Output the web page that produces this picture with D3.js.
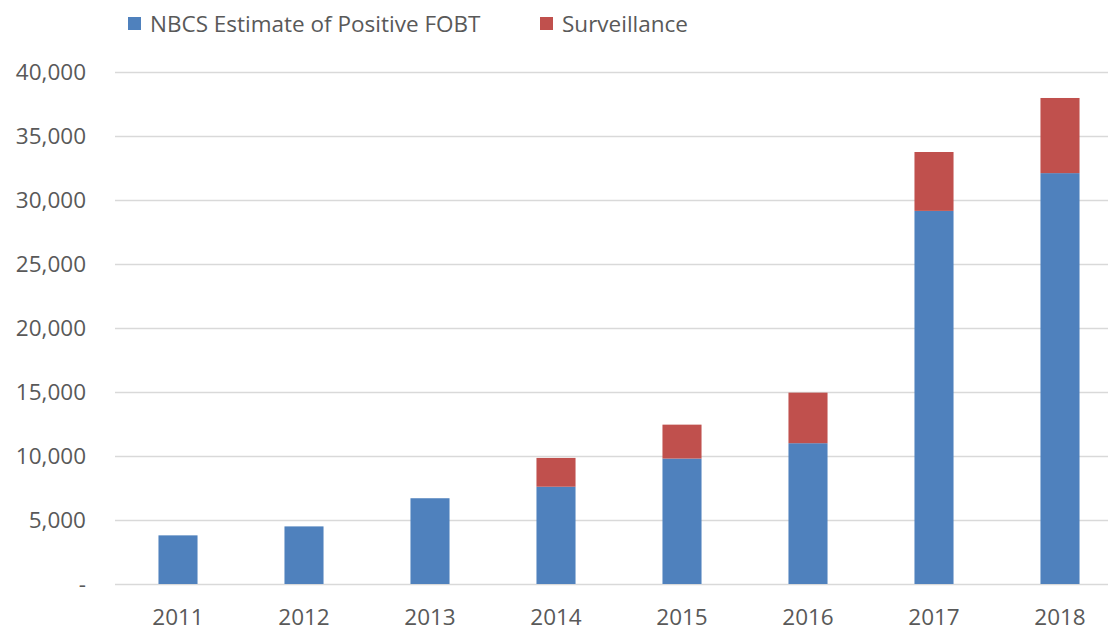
<!DOCTYPE html>
<html>
<head>
<meta charset="utf-8">
<script src="https://cdn.jsdelivr.net/npm/d3@7"></script>
<style>
  body { margin: 0; background: #fff; }
  text { font-family: "Open Sans", sans-serif; fill: #595959; }
</style>
</head>
<body>
<div id="chart"></div>
<script>
const years = ["2011", "2012", "2013", "2014", "2015", "2016", "2017", "2018"];
const nbcs = [3800, 4500, 6700, 7600, 9800, 11000, 29150, 32100];
const surveillance = [0, 0, 0, 2250, 2650, 3950, 4600, 5870];
const seriesNames = ["NBCS Estimate of Positive FOBT", "Surveillance"];
const colors = ["#4F81BD", "#C0504D"];
const yTicks = [0, 5000, 10000, 15000, 20000, 25000, 30000, 35000, 40000];

const width = 1111;
const height = 628;
const margin = { top: 72, right: 3, bottom: 44, left: 115 };
const fontSize = "22.5px";

const svg = d3.select("#chart")
    .append("svg")
    .attr("width", width)
    .attr("height", height);

const x = d3.scaleBand()
    .domain(years)
    .range([margin.left, margin.left + 126 * years.length])
    .paddingInner(0.69)
    .paddingOuter(0.345);

const y = d3.scaleLinear()
    .domain([0, 40000])
    .range([height - margin.bottom, margin.top]);

// gridlines
svg.append("g")
    .selectAll("line")
    .data(yTicks)
    .join("line")
    .attr("x1", margin.left)
    .attr("x2", width - margin.right)
    .attr("y1", d => Math.round(y(d)) + 0.5)
    .attr("y2", d => Math.round(y(d)) + 0.5)
    .attr("stroke", "#d9d9d9")
    .attr("stroke-width", 1.3);

// y labels
const fmt = d3.format(",");
svg.append("g")
    .selectAll("text")
    .data(yTicks)
    .join("text")
    .attr("x", 86)
    .attr("y", d => y(d))
    .attr("dy", "0.35em")
    .attr("text-anchor", "end")
    .style("font-size", fontSize)
    .text(d => d === 0 ? "-" : fmt(d));

// stacked bars
const rows = years.map((yr, i) => ({ year: yr, nbcs: nbcs[i], surveillance: surveillance[i] }));
const stack = d3.stack().keys(["nbcs", "surveillance"]);
const layers = stack(rows);

svg.append("g")
    .selectAll("g")
    .data(layers)
    .join("g")
    .attr("fill", (d, i) => colors[i])
    .selectAll("rect")
    .data(d => d)
    .join("rect")
    .attr("x", d => x(d.data.year))
    .attr("width", x.bandwidth())
    .attr("y", d => y(d[1]))
    .attr("height", d => y(d[0]) - y(d[1]));

// x labels
svg.append("g")
    .selectAll("text")
    .data(years)
    .join("text")
    .attr("x", d => x(d) + x.bandwidth() / 2)
    .attr("y", 625)
    .attr("text-anchor", "middle")
    .style("font-size", fontSize)
    .text(d => d);

// legend
const legendX = [128, 540];
const legend = svg.append("g")
    .selectAll("g")
    .data(seriesNames)
    .join("g")
    .attr("transform", (d, i) => `translate(${legendX[i]}, 17)`);

legend.append("rect")
    .attr("width", 13)
    .attr("height", 13)
    .attr("fill", (d, i) => colors[i]);

legend.append("text")
    .attr("x", 22)
    .attr("y", 7)
    .attr("dy", "0.35em")
    .style("font-size", fontSize)
    .text(d => d);
</script>
</body>
</html>
